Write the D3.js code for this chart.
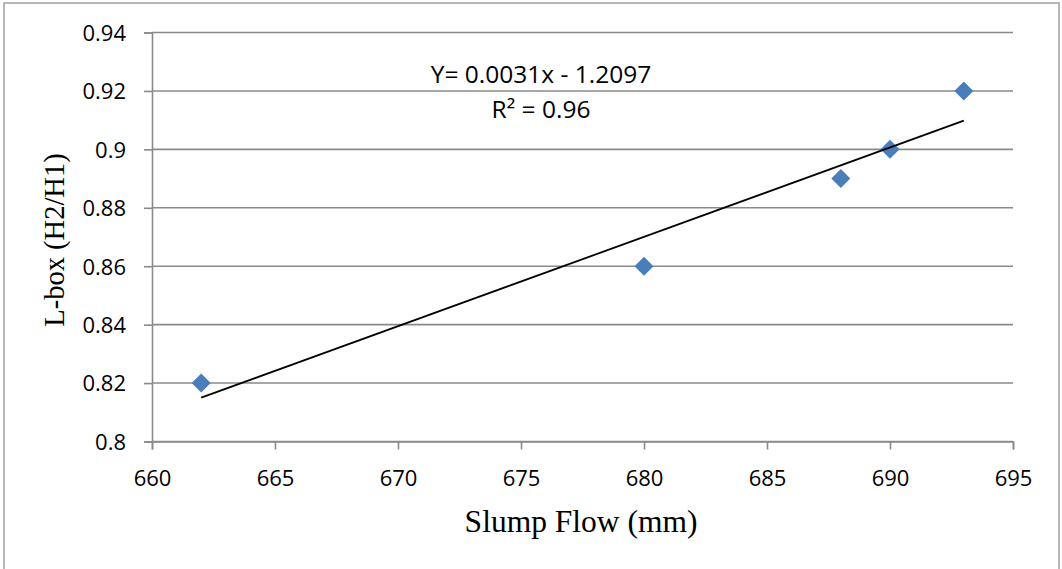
<!DOCTYPE html>
<html>
<head>
<meta charset="utf-8">
<script src="https://cdn.jsdelivr.net/npm/d3@7"></script>
<style>
  html, body { margin: 0; padding: 0; background: #fff; }
  svg { display: block; }
</style>
</head>
<body>
<svg id="chart" width="1062" height="569"></svg>
<script>
// Slump flow vs L-box ratio measurements
const slumpFlow = [662, 680, 688, 690, 693];
const lboxRatio = [0.82, 0.86, 0.89, 0.90, 0.92];

const xTicks = [660, 665, 670, 675, 680, 685, 690, 695];
const yTicks = [0.8, 0.82, 0.84, 0.86, 0.88, 0.9, 0.92, 0.94];

const equationLabel = "Y= 0.0031x - 1.2097";
const r2Label = "R² = 0.96";

const svg = d3.select("#chart");
const m = { left: 152, right: 1013, top: 32.5, bottom: 441.5 };
const sans = "'Open Sans', sans-serif";
const serif = "'Liberation Serif', 'Times New Roman', serif";

// Chart border
svg.append("rect")
  .attr("x", 4).attr("y", 3)
  .attr("width", 1055).attr("height", 570)
  .attr("fill", "none").attr("stroke", "#a0a0a0").attr("stroke-width", 1.5);

const x = d3.scaleLinear().domain([660, 695]).range([m.left, m.right]);
const y = d3.scaleLinear().domain([0.8, 0.94]).range([m.bottom, m.top]);

const gridColor = "#8a8a8a";

// Horizontal gridlines
svg.append("g")
  .selectAll("line")
  .data(yTicks)
  .join("line")
  .attr("x1", m.left).attr("x2", m.right)
  .attr("y1", d => y(d)).attr("y2", d => y(d))
  .attr("stroke", gridColor).attr("stroke-width", 1.6);

// Y axis
const yAxis = svg.append("g")
  .attr("transform", `translate(${m.left},0)`)
  .call(d3.axisLeft(y).tickValues(yTicks).tickSize(8)
    .tickFormat(d => String(+d.toFixed(2))));
yAxis.select(".domain").attr("stroke", gridColor).attr("stroke-width", 1.6);
yAxis.selectAll(".tick line").attr("stroke", gridColor).attr("stroke-width", 1.6);
yAxis.selectAll("text")
  .attr("x", -26).attr("dy", "0.36em")
  .attr("font-family", sans)
  .attr("font-size", 22).attr("fill", "#000");

// X axis
const xAxis = svg.append("g")
  .attr("transform", `translate(0,${m.bottom})`)
  .call(d3.axisBottom(x).tickValues(xTicks).tickSize(8)
    .tickFormat(d3.format("d")));
xAxis.select(".domain").attr("stroke", gridColor).attr("stroke-width", 1.6);
xAxis.selectAll(".tick line").attr("stroke", gridColor).attr("stroke-width", 1.6);
xAxis.selectAll("text")
  .attr("y", 44).attr("dy", null)
  .attr("font-family", sans)
  .attr("font-size", 22).attr("fill", "#000");

// Least-squares trendline over the data range
const n = slumpFlow.length;
const mx = d3.mean(slumpFlow), my = d3.mean(lboxRatio);
let sxy = 0, sxx = 0;
for (let i = 0; i < n; i++) {
  sxy += (slumpFlow[i] - mx) * (lboxRatio[i] - my);
  sxx += (slumpFlow[i] - mx) ** 2;
}
const slope = sxy / sxx;
const intercept = my - slope * mx;
const [x0, x1] = d3.extent(slumpFlow);

// Data markers (diamonds)
const diamond = d3.symbol().type(d3.symbolSquare).size(180);
svg.append("g")
  .selectAll("path")
  .data(slumpFlow.map((v, i) => [v, lboxRatio[i]]))
  .join("path")
  .attr("d", diamond)
  .attr("transform", d => `translate(${x(d[0])},${y(d[1])}) rotate(45)`)
  .attr("fill", "#4a7ebb");

svg.append("line")
  .attr("x1", x(x0)).attr("y1", y(slope * x0 + intercept))
  .attr("x2", x(x1)).attr("y2", y(slope * x1 + intercept))
  .attr("stroke", "#000").attr("stroke-width", 1.8);

// Equation annotation
svg.append("text")
  .attr("x", 541).attr("y", 83)
  .attr("text-anchor", "middle")
  .attr("font-family", sans)
  .attr("font-size", 24.5).attr("fill", "#000")
  .text(equationLabel);
svg.append("text")
  .attr("x", 541).attr("y", 118)
  .attr("text-anchor", "middle")
  .attr("font-family", sans)
  .attr("font-size", 24.5).attr("fill", "#000")
  .text(r2Label);

// Axis titles
svg.append("text")
  .attr("x", 581).attr("y", 532)
  .attr("text-anchor", "middle")
  .attr("font-family", serif)
  .attr("font-size", 31.5).attr("fill", "#000")
  .text("Slump Flow (mm)");
svg.append("text")
  .attr("transform", "translate(64,240) rotate(-90)")
  .attr("text-anchor", "middle")
  .attr("font-family", serif)
  .attr("font-size", 28.5).attr("fill", "#000")
  .text("L-box (H2/H1)");
</script>
</body>
</html>
